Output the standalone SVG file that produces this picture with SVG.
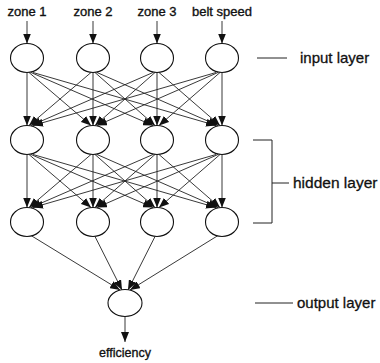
<svg xmlns="http://www.w3.org/2000/svg" width="380" height="363" viewBox="0 0 380 363">
  <defs>
    <marker id="arrow" markerUnits="userSpaceOnUse" markerWidth="10" markerHeight="8" refX="10" refY="4" orient="auto">
      <path d="M0,0 L10,4 L0,8 z" fill="#111"/>
    </marker>
  </defs>
  <style>
    .node { fill: #fff; stroke: #111; stroke-width: 1.1; }
    .edge { stroke: #222; stroke-width: 0.9; fill: none; marker-end: url(#arrow); }
    .plain { stroke: #222; stroke-width: 1; fill: none; }
    .lbl { font-family: "Liberation Sans", Arial, sans-serif; font-size: 13px; fill: #111; stroke: #111; stroke-width: 0.35; text-anchor: middle; }
    .layer { font-family: "Liberation Sans", Arial, sans-serif; font-size: 15px; fill: #111; stroke: #111; stroke-width: 0.3; }
  </style>
  <rect width="380" height="363" fill="#fff"/>

  <g id="connectors">
    <!-- inputs into the input layer -->
    <line class="edge" x1="27" y1="21" x2="27" y2="43.5"/>
    <line class="edge" x1="93" y1="21" x2="93" y2="43.5"/>
    <line class="edge" x1="157" y1="21" x2="157" y2="43.5"/>
    <line class="edge" x1="222" y1="21" x2="222" y2="43.5"/>

    <!-- input layer to hidden layer 1 -->
    <line class="edge" x1="27" y1="72.5" x2="27" y2="125.5"/>
    <line class="edge" x1="29" y1="72.5" x2="91" y2="125.5"/>
    <line class="edge" x1="31" y1="72.5" x2="153" y2="125.5"/>
    <line class="edge" x1="33" y1="72.5" x2="216" y2="125.5"/>
    <line class="edge" x1="91" y1="72.5" x2="29" y2="125.5"/>
    <line class="edge" x1="93" y1="72.5" x2="93" y2="125.5"/>
    <line class="edge" x1="95" y1="72.5" x2="155" y2="125.5"/>
    <line class="edge" x1="97" y1="72.5" x2="218" y2="125.5"/>
    <line class="edge" x1="153" y1="72.5" x2="31" y2="125.5"/>
    <line class="edge" x1="155" y1="72.5" x2="95" y2="125.5"/>
    <line class="edge" x1="157" y1="72.5" x2="157" y2="125.5"/>
    <line class="edge" x1="159" y1="72.5" x2="220" y2="125.5"/>
    <line class="edge" x1="216" y1="72.5" x2="33" y2="125.5"/>
    <line class="edge" x1="218" y1="72.5" x2="97" y2="125.5"/>
    <line class="edge" x1="220" y1="72.5" x2="159" y2="125.5"/>
    <line class="edge" x1="222" y1="72.5" x2="222" y2="125.5"/>

    <!-- hidden layer 1 to hidden layer 2 -->
    <line class="edge" x1="27" y1="154.5" x2="27" y2="207.5"/>
    <line class="edge" x1="29" y1="154.5" x2="91" y2="207.5"/>
    <line class="edge" x1="31" y1="154.5" x2="153" y2="207.5"/>
    <line class="edge" x1="33" y1="154.5" x2="216" y2="207.5"/>
    <line class="edge" x1="91" y1="154.5" x2="29" y2="207.5"/>
    <line class="edge" x1="93" y1="154.5" x2="93" y2="207.5"/>
    <line class="edge" x1="95" y1="154.5" x2="155" y2="207.5"/>
    <line class="edge" x1="97" y1="154.5" x2="218" y2="207.5"/>
    <line class="edge" x1="153" y1="154.5" x2="31" y2="207.5"/>
    <line class="edge" x1="155" y1="154.5" x2="95" y2="207.5"/>
    <line class="edge" x1="157" y1="154.5" x2="157" y2="207.5"/>
    <line class="edge" x1="159" y1="154.5" x2="220" y2="207.5"/>
    <line class="edge" x1="216" y1="154.5" x2="33" y2="207.5"/>
    <line class="edge" x1="218" y1="154.5" x2="97" y2="207.5"/>
    <line class="edge" x1="220" y1="154.5" x2="159" y2="207.5"/>
    <line class="edge" x1="222" y1="154.5" x2="222" y2="207.5"/>

    <!-- hidden layer 2 to output -->
    <line class="edge" x1="31" y1="235.5" x2="120" y2="290"/>
    <line class="edge" x1="95" y1="236.5" x2="122" y2="290"/>
    <line class="edge" x1="155" y1="236.5" x2="128" y2="290"/>
    <line class="edge" x1="218" y1="235.5" x2="130" y2="290"/>

    <!-- output value -->
    <line class="edge" x1="125" y1="316.5" x2="125" y2="342"/>
  </g>

  <!-- input layer -->
  <g id="in1"><ellipse class="node" cx="27" cy="58" rx="16.5" ry="14.5"/></g>
  <g id="in2"><ellipse class="node" cx="93" cy="58" rx="16.5" ry="14.5"/></g>
  <g id="in3"><ellipse class="node" cx="157" cy="58" rx="16.5" ry="14.5"/></g>
  <g id="in4"><ellipse class="node" cx="222" cy="58" rx="16.5" ry="14.5"/></g>

  <!-- hidden layer 1 -->
  <g id="h1a"><ellipse class="node" cx="27" cy="140" rx="16.5" ry="14.5"/></g>
  <g id="h1b"><ellipse class="node" cx="93" cy="140" rx="16.5" ry="14.5"/></g>
  <g id="h1c"><ellipse class="node" cx="157" cy="140" rx="16.5" ry="14.5"/></g>
  <g id="h1d"><ellipse class="node" cx="222" cy="140" rx="16.5" ry="14.5"/></g>

  <!-- hidden layer 2 -->
  <g id="h2a"><ellipse class="node" cx="27" cy="222" rx="16.5" ry="14.5"/></g>
  <g id="h2b"><ellipse class="node" cx="93" cy="222" rx="16.5" ry="14.5"/></g>
  <g id="h2c"><ellipse class="node" cx="157" cy="222" rx="16.5" ry="14.5"/></g>
  <g id="h2d"><ellipse class="node" cx="222" cy="222" rx="16.5" ry="14.5"/></g>

  <!-- output layer -->
  <g id="out"><ellipse class="node" cx="125" cy="303" rx="17" ry="13.5"/></g>

  <!-- input / output names -->
  <g id="names">
    <text class="lbl" x="27" y="16">zone 1</text>
    <text class="lbl" x="93" y="16">zone 2</text>
    <text class="lbl" x="157" y="16">zone 3</text>
    <text class="lbl" x="222" y="16">belt speed</text>
    <text class="lbl" x="125" y="357" style="font-size:12.5px">efficiency</text>
  </g>

  <!-- layer captions -->
  <g id="captions">
    <line class="plain" x1="257" y1="58" x2="287" y2="58"/>
    <text class="layer" x="300" y="63">input layer</text>

    <path class="plain" d="M253,140 H272 V223 H253 M272,183 H289"/>
    <text class="layer" x="293" y="188" style="font-size:15.5px">hidden layer</text>

    <line class="plain" x1="255" y1="303" x2="293" y2="303"/>
    <text class="layer" x="297" y="308">output layer</text>
  </g>
</svg>
